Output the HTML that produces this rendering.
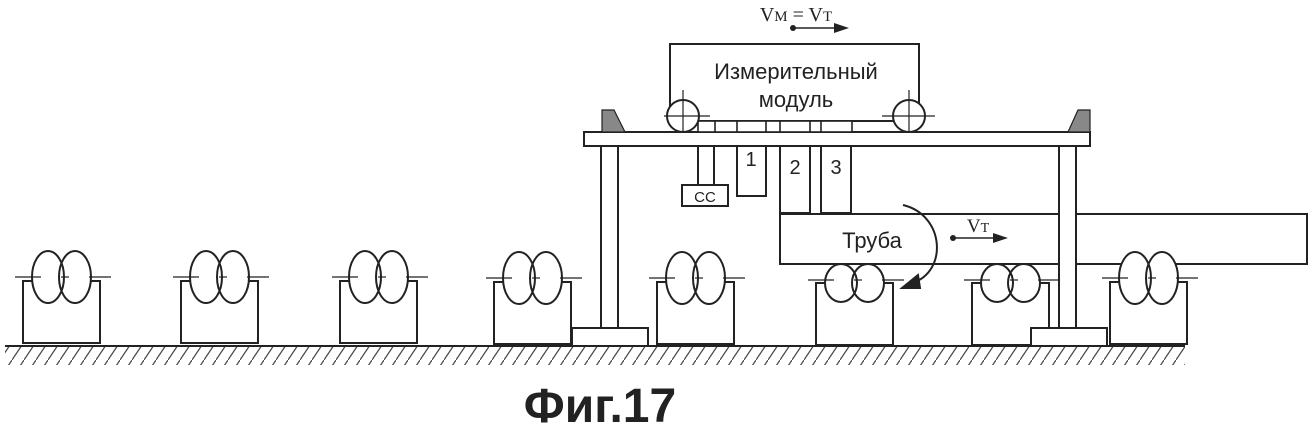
<!DOCTYPE html>
<html><head><meta charset="utf-8"><style>html,body{margin:0;padding:0;background:#fff}svg{display:block}</style></head>
<body>
<svg width="1312" height="428" viewBox="0 0 1312 428" xmlns="http://www.w3.org/2000/svg" font-family="Liberation Sans, sans-serif">
<defs>
<pattern id="h" width="12" height="18" patternUnits="userSpaceOnUse">
<line x1="0" y1="18" x2="12" y2="0" stroke="#444" stroke-width="1.2"/>
</pattern>
<g id="st" stroke="#222" stroke-width="2">
<rect x="0" y="0" width="77" height="62" fill="#fff"/>
<ellipse cx="25" cy="-4" rx="16" ry="26" fill="#fff" stroke="none"/>
<ellipse cx="52" cy="-4" rx="16" ry="26" fill="#fff" stroke="none"/>
<ellipse cx="25" cy="-4" rx="16" ry="26" fill="none"/>
<ellipse cx="52" cy="-4" rx="16" ry="26" fill="none"/>
<line x1="-8" y1="-4" x2="18" y2="-4" stroke-width="1.2"/>
<line x1="38" y1="-4" x2="46" y2="-4" stroke-width="1.2"/>
<line x1="66" y1="-4" x2="88" y2="-4" stroke-width="1.2"/>
</g>
<g id="st2" stroke="#222" stroke-width="2">
<rect x="0" y="0" width="77" height="62" fill="#fff"/>
<ellipse cx="25" cy="0" rx="16" ry="19" fill="#fff" stroke="none"/>
<ellipse cx="52" cy="0" rx="16" ry="19" fill="#fff" stroke="none"/>
<ellipse cx="25" cy="0" rx="16" ry="19" fill="none"/>
<ellipse cx="52" cy="0" rx="16" ry="19" fill="none"/>
<line x1="-8" y1="-3" x2="18" y2="-3" stroke-width="1.2"/>
<line x1="38" y1="-3" x2="46" y2="-3" stroke-width="1.2"/>
<line x1="66" y1="-3" x2="88" y2="-3" stroke-width="1.2"/>
</g>
</defs>
<g stroke="#222" stroke-width="2" fill="none">
<rect x="5" y="347" width="1180" height="18" fill="url(#h)" stroke="none"/>
<line x1="5" y1="346" x2="1185" y2="346"/>
</g>
<use href="#st" x="23" y="281"/>
<use href="#st" x="181" y="281"/>
<use href="#st" x="340" y="281"/>
<use href="#st" x="494" y="282"/>
<use href="#st" x="657" y="282"/>
<g stroke="#222" stroke-width="2" fill="none">
<rect x="780" y="214" width="527" height="50" fill="#fff"/>
</g>
<use href="#st2" x="816" y="283"/>
<use href="#st2" x="972" y="283"/>
<use href="#st" x="1110" y="282"/>
<g stroke="#222" stroke-width="2" fill="none">
<rect x="601" y="145" width="17" height="183" fill="#fff"/>
<rect x="1059" y="145" width="17" height="183" fill="#fff"/>
<rect x="572" y="328" width="76" height="18" fill="#fff"/>
<rect x="1031" y="328" width="76" height="18" fill="#fff"/>
<rect x="584" y="132" width="506" height="14" fill="#fff"/>
<polygon points="602,110 614,110 625,132 602,132" fill="#888" stroke-width="1.2"/>
<polygon points="1078,110 1090,110 1090,132 1068,132" fill="#888" stroke-width="1.2"/>
<rect x="670" y="44" width="249" height="77" fill="#fff"/>
<rect x="698" y="121" width="154" height="11" fill="#fff" stroke-width="1.6"/>
<line x1="715" y1="121" x2="715" y2="132" stroke-width="1.6"/>
<line x1="737" y1="121" x2="737" y2="132" stroke-width="1.6"/>
<line x1="766" y1="121" x2="766" y2="132" stroke-width="1.6"/>
<line x1="780" y1="121" x2="780" y2="132" stroke-width="1.6"/>
<line x1="810" y1="121" x2="810" y2="132" stroke-width="1.6"/>
<line x1="821" y1="121" x2="821" y2="132" stroke-width="1.6"/>
<circle cx="683" cy="116" r="16" fill="#fff"/>
<circle cx="909" cy="116" r="16" fill="#fff"/>
<g stroke-width="1.2">
<line x1="664" y1="116" x2="710" y2="116"/><line x1="683" y1="90" x2="683" y2="132"/>
<line x1="882" y1="116" x2="935" y2="116"/><line x1="909" y1="90" x2="909" y2="132"/>
</g>
<line x1="698" y1="146" x2="698" y2="185"/>
<line x1="714" y1="146" x2="714" y2="185"/>
<rect x="682" y="185" width="46" height="21" fill="#fff"/>
<rect x="737" y="146" width="29" height="50"/>
<rect x="780" y="146" width="30" height="67"/>
<rect x="821" y="146" width="30" height="67"/>
<path d="M903,205 C945,215 948,272 912,283"/>
<polygon points="902,288 918,275 920,288" fill="#222"/>
<line x1="953" y1="238" x2="995" y2="238" stroke-width="1.6"/>
<polygon points="993,233 1008,238 993,243" fill="#222" stroke="none"/>
<circle cx="953" cy="238" r="3" fill="#222" stroke="none"/>
<line x1="793" y1="28" x2="836" y2="28" stroke-width="1.6"/>
<polygon points="834,23 849,28 834,33" fill="#222" stroke="none"/>
<circle cx="793" cy="28" r="3" fill="#222" stroke="none"/>
</g>
<g fill="#222">
<text x="796" y="21" font-family="Liberation Serif, serif" font-size="20" text-anchor="middle">V<tspan font-size="15">M</tspan> = V<tspan font-size="15">T</tspan></text>
<text x="978" y="232" font-family="Liberation Serif, serif" font-size="19" text-anchor="middle">V<tspan font-size="14">T</tspan></text>
<text x="796" y="79" font-size="22" text-anchor="middle">Измерительный</text>
<text x="796" y="107" font-size="22" text-anchor="middle">модуль</text>
<text x="872" y="248" font-size="22" text-anchor="middle">Труба</text>
<text x="751" y="166" font-size="20" text-anchor="middle">1</text>
<text x="795" y="174" font-size="20" text-anchor="middle">2</text>
<text x="836" y="174" font-size="20" text-anchor="middle">3</text>
<text x="705" y="202" font-size="15" text-anchor="middle">CC</text>
<text x="600" y="422" font-size="48" font-weight="bold" text-anchor="middle">Фиг.17</text>
</g>
</svg>
</body></html>
